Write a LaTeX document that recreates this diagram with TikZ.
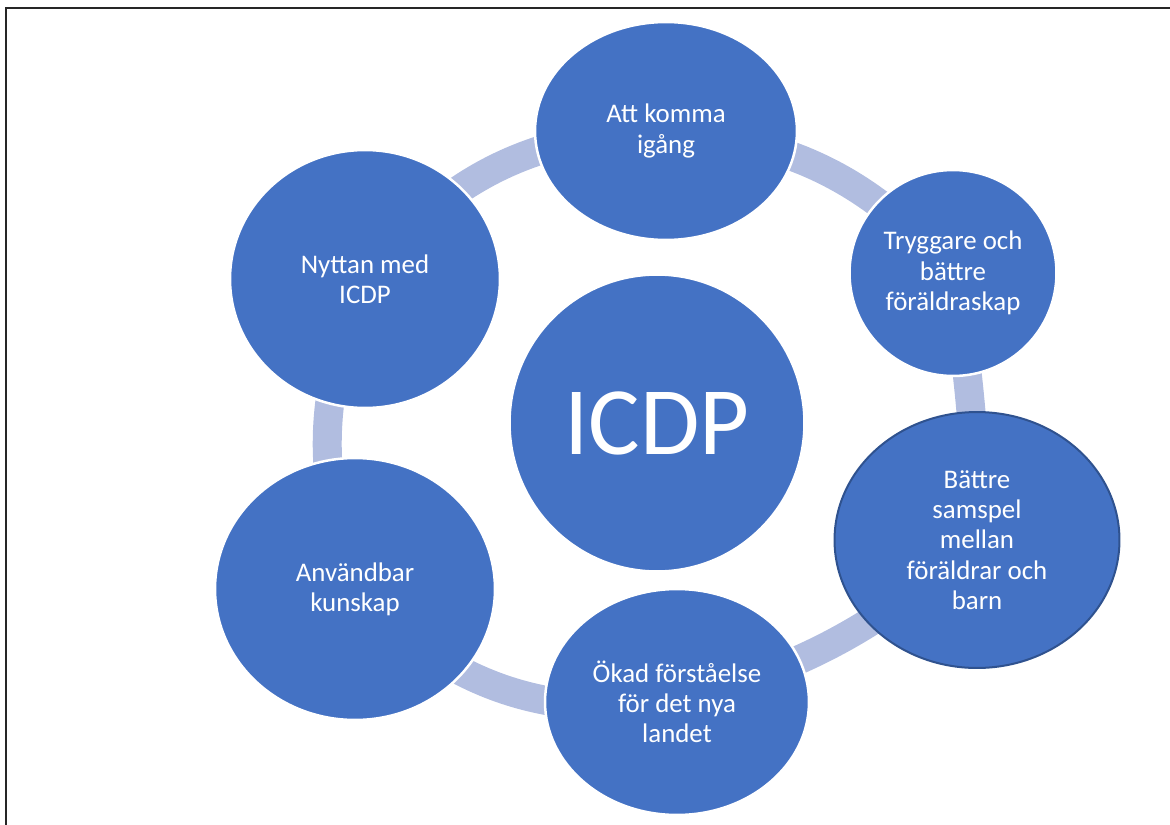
\documentclass[tikz,border=0pt]{standalone}
\usepackage{fontspec}
\setmainfont{Carlito}
\usepackage{xcolor}
\usetikzlibrary{shapes.geometric}
\usetikzlibrary{backgrounds}
\definecolor{ballblue}{RGB}{68,114,196}
\definecolor{ringblue}{RGB}{177,189,224}
\definecolor{rimblue}{RGB}{47,82,143}

\begin{document}
\begin{tikzpicture}[x=0.02cm, y=-0.02cm,
	ball/.style = {ellipse, fill=ballblue, draw=white, line width=0.05cm, inner sep=0pt, text=white, align=center, font=\fontsize{15.3}{17.2}\selectfont},
	ring/.style = {draw=ringblue, line width=0.58cm}]
	\useasboundingbox (0,0) rectangle (1170,825);
	\node[ball, minimum width=5.24cm, minimum height=4.36cm] (1) at (666,131) {Att komma\\igång};
	\node[ball, minimum width=4.14cm, minimum height=4.12cm] (2) at (953,273) {Tryggare och\\bättre\\föräldraskap};
	\node[ball, draw=rimblue, line width=0.04cm, minimum width=5.70cm, minimum height=5.12cm] (3) at (977,540) {Bättre\\samspel\\mellan\\föräldrar och\\barn};
	\node[ball, minimum width=5.28cm, minimum height=4.52cm] (4) at (677,702) {Ökad förståelse\\för det nya\\landet};
	\node[ball, minimum width=5.60cm, minimum height=5.24cm] (5) at (355,589) {Användbar\\kunskap};
	\node[ball, minimum width=5.40cm, minimum height=5.16cm] (6) at (365,279) {Nyttan med\\ICDP};
	\node[ball, minimum width=5.90cm, minimum height=5.94cm, font=\fontsize{55}{60}\selectfont] (icdp) at (657,423) {ICDP};
	\begin{scope}[on background layer]
	\draw[ring] (6.center) to[bend left=25] (1.center);
	\draw[ring] (1.center) to[bend left=22] (2.center);
	\draw[ring] (2.center) to[bend left=4] (3.center);
	\draw[ring] (3.center) to[bend left=13] (4.center);
	\draw[ring] (4.center) to[bend left=27] (5.center);
	\draw[ring] (5.center) to[bend left=21] (6.center);
	\end{scope}
	\draw[black!85, line width=0.045cm] (1170,8) -- (6,8) -- (6,825);
\end{tikzpicture}
\end{document}
